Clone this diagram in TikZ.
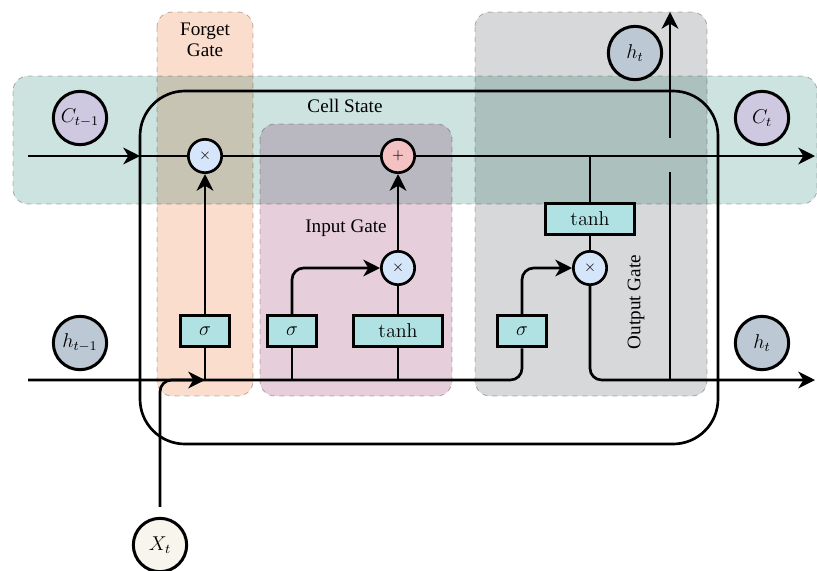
\documentclass[tikz,border=0pt]{standalone}
\usepackage{amsmath}
\usepackage[no-math]{fontspec}
\setmainfont{Liberation Serif}
\usepackage{xcolor}
\usetikzlibrary{arrows.meta,positioning}
\definecolor{bandTeal}{HTML}{CDE3E0}
\definecolor{bandOrange}{HTML}{FADDCC}
\definecolor{bandGray}{HTML}{D6D8D9}
\definecolor{bandPink}{HTML}{E7CEDB}
\definecolor{opBlue}{HTML}{D6E6FA}
\definecolor{opRed}{HTML}{F4C2C2}
\definecolor{actCyan}{HTML}{B0E2E4}
\definecolor{cFill}{HTML}{CFC8E1}
\definecolor{hFill}{HTML}{BCC8D4}
\definecolor{xFill}{HTML}{F8F5EC}

\begin{document}
\begin{tikzpicture}[x=0.6pt, y=-0.6pt, font=\fontsize{11.5}{13.5}\selectfont,
  band/.style={draw=gray!55, dashed, line width=0.5pt, rounded corners=9pt},
  lbl/.style={draw, circle, line width=1.8pt, minimum size=32pt, inner sep=0pt},
  op/.style={draw, circle, line width=1.6pt, minimum size=20pt, inner sep=0pt, fill=opBlue, font=\small},
  act/.style={draw, rectangle, line width=1.7pt, fill=actCyan, minimum height=19pt, minimum width=29pt, inner sep=2pt},
  wire/.style={line width=1.6pt},
  arr/.style={wire, -{Stealth[length=10pt, width=10pt, inset=3pt]}}]
\useasboundingbox (0,0) rectangle (817,570);
% gate bands
\begin{scope}[blend group=multiply]
\path[band, fill=bandTeal] (13,76) rectangle (817,204);
\path[band, fill=bandOrange] (157,12) rectangle (253,396);
\path[band, fill=bandPink] (260,124) rectangle (452,396);
\path[band, fill=bandGray] (475,12) rectangle (707,396);
\end{scope}
\node[align=center] (fgate) at (205,40) {Forget\\[-1pt]Gate};
\node (cstate) at (345,106) {Cell State};
\node (igate) at (346,228) {Input Gate};
\node[rotate=90] (ogate) at (636,302) {Output Gate};
% cell body
\draw[wire, rounded corners=27pt] (140,91) rectangle (718,444);
% operators and activations
\node[op] (fx) at (205,156) {$\times$}; \node[op, fill=opRed] (add) at (398,156) {$+$};
\node[op] (ix) at (398,268) {$\times$}; \node[op] (ox) at (590,268) {$\times$};
\node[act] (fsig) at (205,331) {$\sigma$}; \node[act] (isig) at (292,331) {$\sigma$};
\node[act, minimum width=53pt] (itanh) at (398,331) {$\tanh$};
\node[act] (osig) at (522,331) {$\sigma$};
\node[act, minimum width=53pt] (otanh) at (590,219) {$\tanh$};
% inputs and outputs
\node[lbl, fill=cFill] (cprev) at (80,118) {$C_{t-1}$};
\node[lbl, fill=hFill] (hprev) at (80,343) {$h_{t-1}$};
\node[lbl, fill=xFill] (xt) at (160,545) {$X_t$};
\node[lbl, fill=hFill] (htop) at (635,53) {$h_t$};
\node[lbl, fill=cFill] (cnext) at (762,118) {$C_t$};
\node[lbl, fill=hFill] (hnext) at (762,343) {$h_t$};
\coordinate (cin) at (28,156); \coordinate (cedge) at (140,156); \coordinate (cout) at (815,156);
\coordinate (hin) at (28,380); \coordinate (hout) at (815,380); \coordinate (fj) at (205,380);
\coordinate (hup) at (670,380); \coordinate (hgap) at (670,172);
\coordinate (hgapb) at (670,138); \coordinate (hend) at (670,12);
% cell state path
\draw[arr] (cin) -- (cedge);
\draw[wire] (cedge) -- (fx); \draw[wire] (fx) -- (add); \draw[arr] (add) -- (cout);
% hidden state and input
\draw[wire, rounded corners=7pt] (hin) -| (osig);
\draw[arr, rounded corners=7pt, shorten <=6pt] (xt) |- (fj);
\draw[wire] (fj) -- (fsig); \draw[arr] (fsig) -- (fx);
\draw[wire] (isig |- hin) -- (isig); \draw[arr, rounded corners=7pt] (isig) |- (ix);
\draw[wire] (itanh |- hin) -- (itanh); \draw[wire] (itanh) -- (ix); \draw[arr] (ix) -- (add);
\draw[wire] (otanh |- add) -- (otanh); \draw[wire] (otanh) -- (ox);
\draw[arr, rounded corners=7pt] (osig) |- (ox);
\draw[arr, rounded corners=7pt] (ox) |- (hout);
\draw[wire] (hup) -- (hgap); \draw[arr] (hgapb) -- (hend);
\end{tikzpicture}
\end{document}
